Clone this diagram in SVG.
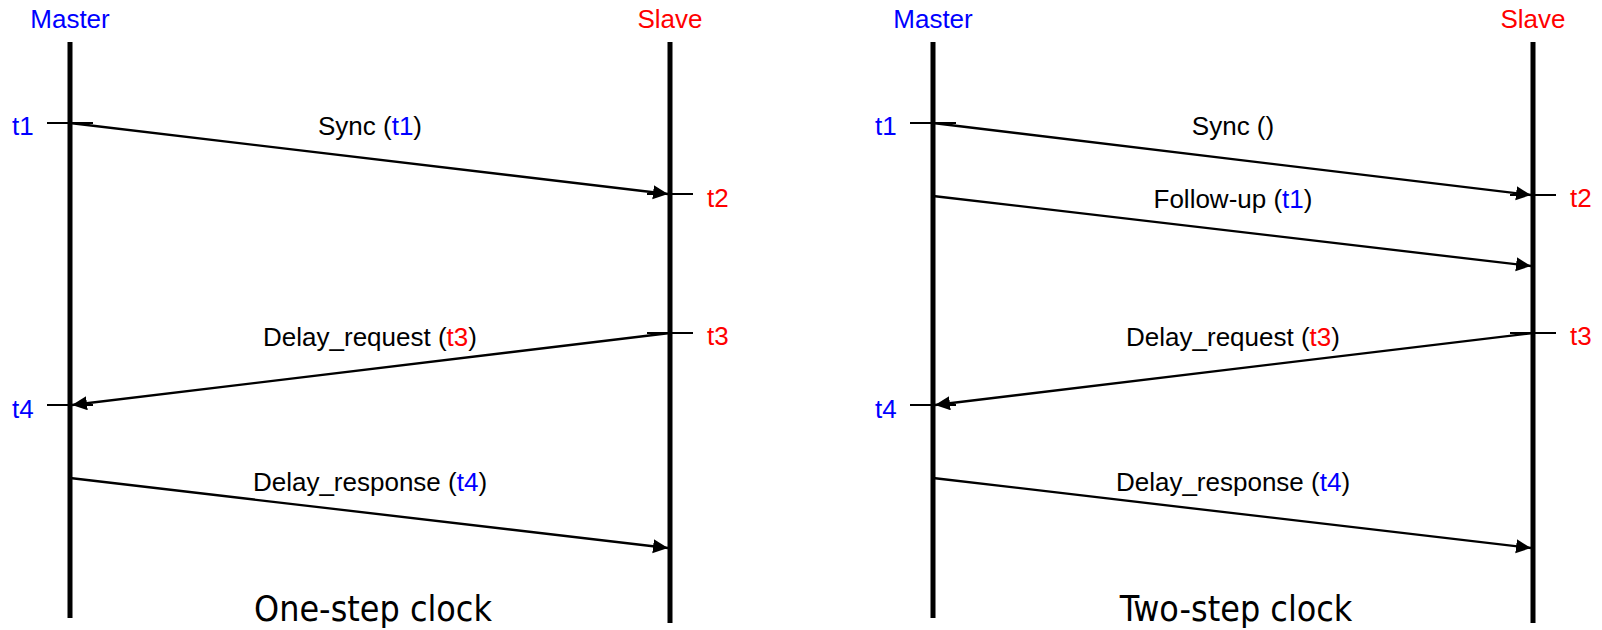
<svg xmlns="http://www.w3.org/2000/svg" width="1602" height="630" viewBox="0 0 1602 630">
<style>
.lbl{font-family:"Liberation Sans",Arial,sans-serif;font-size:26px;fill:#000}
.blue{fill:#0000FF}
.red{fill:#FF0000}
.life{stroke:#000;stroke-width:5;fill:none}
.tick{stroke:#000;stroke-width:2;fill:none}
.msg{stroke:#000;stroke-width:2.3;fill:none;marker-end:url(#arr)}
.title{font-family:"DejaVu Sans Condensed","DejaVu Sans",sans-serif;font-size:35.5px;fill:#000;text-anchor:middle}
</style>
<defs>
<marker id="arr" markerUnits="userSpaceOnUse" markerWidth="16" markerHeight="15" refX="15" refY="7" orient="auto" viewBox="0 0 16 15">
<path d="M0,0 L15,7 L0,14 z" fill="#000"/>
</marker>
</defs>
<rect width="1602" height="630" fill="#fff"/>

<g id="one-step">
<g id="master1">
<text class="lbl blue" x="70" y="28" text-anchor="middle">Master</text>
<line class="life" x1="70" y1="42" x2="70" y2="618"/>
</g>
<g id="slave1">
<text class="lbl red" x="670" y="28" text-anchor="middle">Slave</text>
<line class="life" x1="670" y1="42" x2="670" y2="623"/>
</g>
<g id="ticks1">
<line class="tick" x1="47" y1="123" x2="93" y2="123"/>
<text class="lbl blue" x="12" y="135">t1</text>
<line class="tick" x1="647" y1="194" x2="693" y2="194"/>
<text class="lbl red" x="707" y="207">t2</text>
<line class="tick" x1="647" y1="333" x2="693" y2="333"/>
<text class="lbl red" x="707" y="345">t3</text>
<line class="tick" x1="47" y1="405" x2="93" y2="405"/>
<text class="lbl blue" x="12" y="418">t4</text>
</g>
<g id="connectors1">
<line class="msg" x1="70" y1="123" x2="668" y2="194"/>
<line class="msg" x1="670" y1="333" x2="72" y2="405"/>
<line class="msg" x1="70" y1="478" x2="668" y2="548"/>
</g>
<g id="labels1">
<text class="lbl" x="370" y="135" text-anchor="middle">Sync (<tspan class="blue">t1</tspan>)</text>
<text class="lbl" x="370" y="346" text-anchor="middle">Delay_request (<tspan class="red">t3</tspan>)</text>
<text class="lbl" x="370" y="491" text-anchor="middle">Delay_response (<tspan class="blue">t4</tspan>)</text>
</g>
<text class="title" x="373" y="621">One-step clock</text>
</g>

<g id="two-step">
<g id="master2">
<text class="lbl blue" x="933" y="28" text-anchor="middle">Master</text>
<line class="life" x1="933" y1="42" x2="933" y2="618"/>
</g>
<g id="slave2">
<text class="lbl red" x="1533" y="28" text-anchor="middle">Slave</text>
<line class="life" x1="1533" y1="42" x2="1533" y2="623"/>
</g>
<g id="ticks2">
<line class="tick" x1="910" y1="123" x2="956" y2="123"/>
<text class="lbl blue" x="875" y="135">t1</text>
<line class="tick" x1="1510" y1="195" x2="1556" y2="195"/>
<text class="lbl red" x="1570" y="207">t2</text>
<line class="tick" x1="1510" y1="333" x2="1556" y2="333"/>
<text class="lbl red" x="1570" y="345">t3</text>
<line class="tick" x1="910" y1="405" x2="956" y2="405"/>
<text class="lbl blue" x="875" y="418">t4</text>
</g>
<g id="connectors2">
<line class="msg" x1="933" y1="123" x2="1531" y2="195"/>
<line class="msg" x1="933" y1="196" x2="1531" y2="266"/>
<line class="msg" x1="1533" y1="333" x2="935" y2="405"/>
<line class="msg" x1="933" y1="478" x2="1531" y2="548"/>
</g>
<g id="labels2">
<text class="lbl" x="1233" y="135" text-anchor="middle">Sync ()</text>
<text class="lbl" x="1233" y="208" text-anchor="middle">Follow-up (<tspan class="blue">t1</tspan>)</text>
<text class="lbl" x="1233" y="346" text-anchor="middle">Delay_request (<tspan class="red">t3</tspan>)</text>
<text class="lbl" x="1233" y="491" text-anchor="middle">Delay_response (<tspan class="blue">t4</tspan>)</text>
</g>
<text class="title" x="1236" y="621">Two-step clock</text>
</g>
</svg>
